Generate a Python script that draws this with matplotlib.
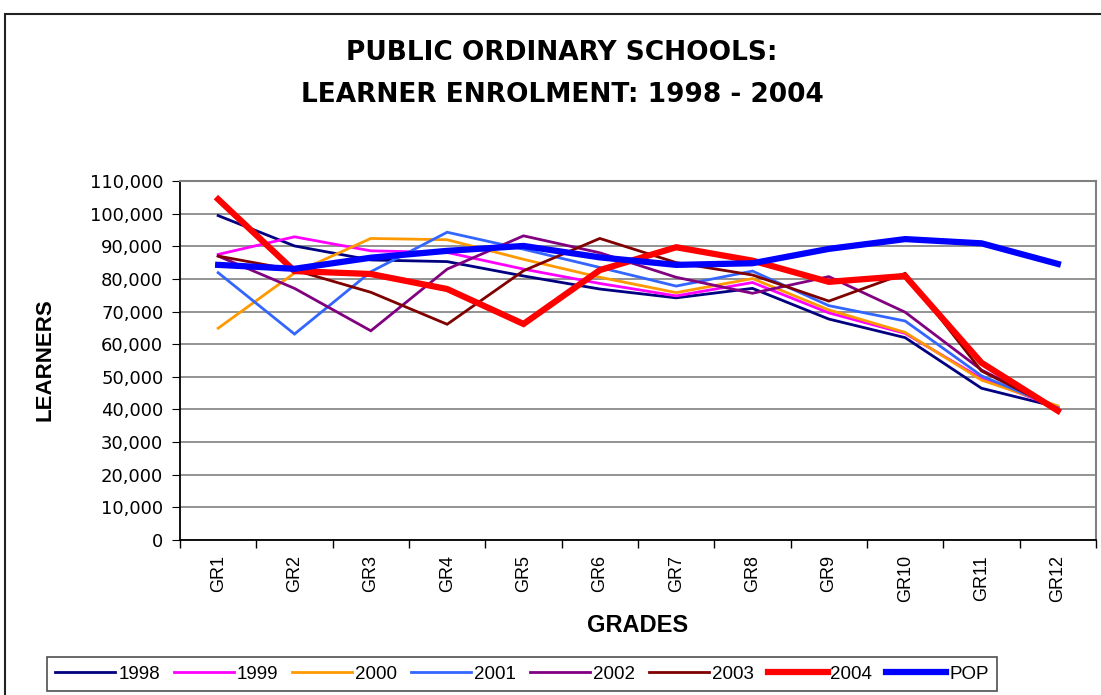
import matplotlib
matplotlib.use("Agg")
import matplotlib.pyplot as plt
from matplotlib.patches import Rectangle
from matplotlib.ticker import FuncFormatter, MultipleLocator

grades = ["GR1", "GR2", "GR3", "GR4", "GR5", "GR6", "GR7", "GR8", "GR9", "GR10", "GR11", "GR12"]
y1998 = [99400, 90100, 85800, 85300, 80900, 76900, 74200, 77100, 67700, 62000, 46500, 40700]
y1999 = [87500, 92900, 88600, 88100, 83000, 78600, 74800, 78900, 69600, 63300, 49500, 40500]
y2000 = [64900, 81800, 92400, 92000, 86000, 80500, 75800, 80100, 70500, 63600, 49000, 41100]
y2001 = [81900, 63100, 82200, 94300, 89100, 83500, 77800, 82400, 71800, 67100, 50300, 40500]
y2002 = [87000, 77100, 64100, 83000, 93200, 88000, 80500, 75600, 80700, 69800, 52100, 40200]
y2003 = [87000, 82700, 75900, 66100, 82500, 92400, 85000, 81200, 73200, 81700, 51800, 40000]
y2004 = [104400, 82400, 81500, 76900, 66200, 82700, 89700, 85600, 79100, 80900, 54300, 39600]
ypop = [84300, 83100, 86500, 88600, 90100, 86600, 84300, 84800, 89200, 92200, 90900, 84600]

series = [
    ("1998", y1998, "#000080", 2.0),
    ("1999", y1999, "#FF00FF", 2.0),
    ("2000", y2000, "#FF9900", 2.0),
    ("2001", y2001, "#3366FF", 2.0),
    ("2002", y2002, "#800080", 2.0),
    ("2003", y2003, "#800000", 2.0),
    ("2004", y2004, "#FF0000", 4.5),
    ("POP", ypop, "#0000FF", 4.5),
]

plt.rcParams["font.family"] = ["Liberation Sans", "DejaVu Sans"]

fig = plt.figure(figsize=(11.01, 6.95), dpi=100)
fig.patches.append(Rectangle((5 / 1101, -0.1), 1.2, (695 - 14) / 695 + 0.1,
                             transform=fig.transFigure, fill=False,
                             edgecolor="#222222", linewidth=1.5))

ax = fig.add_axes([180 / 1101, 1 - 540 / 695, 916 / 1101, (540 - 181) / 695])
x = list(range(len(grades)))
for name, vals, col, lw in series:
    ax.plot(x, vals, color=col, lw=lw, label=name, solid_joinstyle="miter")

ax.set_xlim(-0.5, len(grades) - 0.5)
ax.set_ylim(0, 110000)
ax.yaxis.set_major_locator(MultipleLocator(10000))
ax.yaxis.set_major_formatter(FuncFormatter(lambda v, p: f"{int(v):,}"))
for lab in ax.get_yticklabels():
    pass
ax.set_xticks([i - 0.5 for i in range(len(grades) + 1)], minor=False)
ax.set_xticklabels([])
ax.set_xticks(x, minor=True)
ax.set_xticklabels(grades, minor=True, rotation=90, fontsize=13)
ax.tick_params(axis="x", which="minor", length=0, pad=11)
ax.tick_params(axis="x", which="major", length=6, direction="out", width=1)
ax.tick_params(axis="y", length=6, direction="out", labelsize=13, pad=6,
               labelfontfamily="DejaVu Sans")
ax.grid(axis="y", color="#808080", lw=1.2)
ax.set_axisbelow(True)
for s in ["top", "right"]:
    ax.spines[s].set_color("#808080")
    ax.spines[s].set_linewidth(1.5)
ax.spines["left"].set_linewidth(1.3)
ax.spines["bottom"].set_linewidth(1.3)

fig.text(45 / 1101, 1 - 360 / 695, "LEARNERS", ha="center", va="center", rotation=90,
         fontsize=16, fontweight="bold")
fig.text(638 / 1101, 1 - 626 / 695, "GRADES", ha="center", va="center",
         fontsize=17, fontweight="bold")

fig.text(562 / 1101, 1 - 53 / 695, "PUBLIC ORDINARY SCHOOLS:", ha="center", va="center",
         fontsize=19, fontweight="bold", family=["DejaVu Sans"])
fig.text(562 / 1101, 1 - 95 / 695, "LEARNER ENROLMENT: 1998 - 2004", ha="center", va="center",
         fontsize=19, fontweight="bold", family=["DejaVu Sans"])

leg = fig.legend(loc="center", bbox_to_anchor=(522 / 1101, 1 - 674 / 695), ncol=8,
                 fontsize=13.5, frameon=True, fancybox=False, edgecolor="#222222",
                 handlelength=3.2, handletextpad=0.15, columnspacing=0.75,
                 borderpad=0.45)
leg.get_frame().set_linewidth(1.2)

fig.savefig("out.png", dpi=100)
